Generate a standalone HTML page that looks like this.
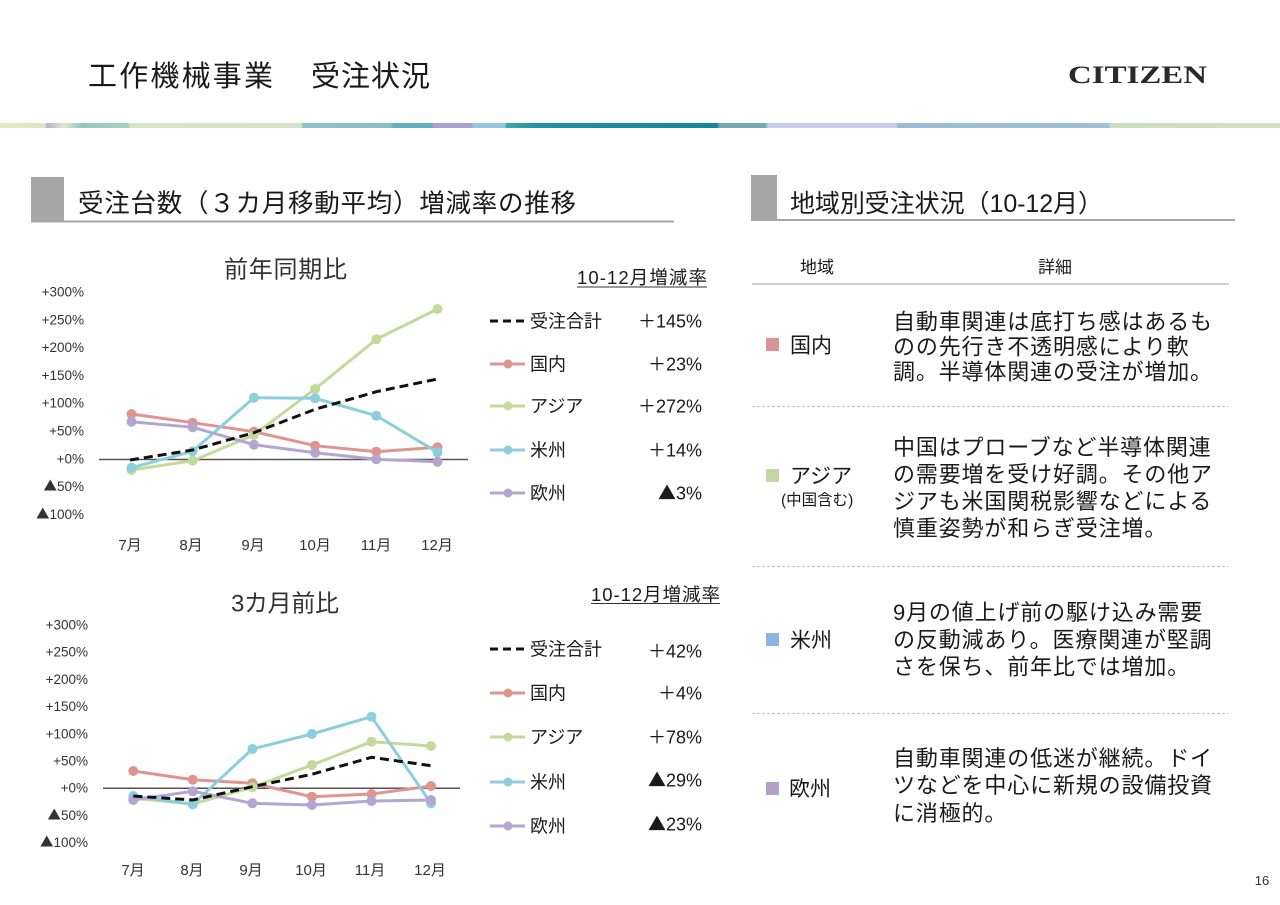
<!DOCTYPE html>
<html><head><meta charset="utf-8">
<style>
html,body{margin:0;padding:0;background:#fff;}
svg{display:block;}
text{font-family:"Liberation Sans","Noto Sans CJK JP",sans-serif;fill:#1a1a1a;}
.ax{fill:#333;font-size:13.5px;}
.xl{fill:#333;font-size:15px;}
.tri{font-family:"Noto Sans CJK JP",sans-serif;}
</style></head>
<body>
<svg width="1280" height="905" viewBox="0 0 1280 905" xmlns="http://www.w3.org/2000/svg">
<defs>
<linearGradient id="band" x1="0" y1="0" x2="1280" y2="0" gradientUnits="userSpaceOnUse">
<stop offset="0" stop-color="#e2eac2"/>
<stop offset="0.035" stop-color="#dde8c4"/>
<stop offset="0.037" stop-color="#b8b0d8"/>
<stop offset="0.05" stop-color="#dce8cc"/>
<stop offset="0.064" stop-color="#92c8c0"/>
<stop offset="0.1" stop-color="#a8d0c4"/>
<stop offset="0.102" stop-color="#d6e6c8"/>
<stop offset="0.235" stop-color="#d4e4c8"/>
<stop offset="0.237" stop-color="#8cc4c4"/>
<stop offset="0.305" stop-color="#86c0c4"/>
<stop offset="0.307" stop-color="#64aec0"/>
<stop offset="0.337" stop-color="#64aec0"/>
<stop offset="0.339" stop-color="#a8a2d2"/>
<stop offset="0.368" stop-color="#a8a2d2"/>
<stop offset="0.37" stop-color="#92c8e0"/>
<stop offset="0.394" stop-color="#92c8e0"/>
<stop offset="0.396" stop-color="#3ea8a8"/>
<stop offset="0.42" stop-color="#1f92a0"/>
<stop offset="0.56" stop-color="#14869c"/>
<stop offset="0.562" stop-color="#72a8b0"/>
<stop offset="0.598" stop-color="#72a8b0"/>
<stop offset="0.6" stop-color="#c8cce8"/>
<stop offset="0.7" stop-color="#c8cce8"/>
<stop offset="0.702" stop-color="#98bcd8"/>
<stop offset="0.866" stop-color="#9cc2d4"/>
<stop offset="0.868" stop-color="#c8e0c0"/>
<stop offset="1" stop-color="#cfe2c2"/>
</linearGradient>
</defs>

<!-- Header -->
<text x="88" y="86" font-size="29" textLength="185" lengthAdjust="spacing">工作機械事業</text>
<text x="311" y="86" font-size="29" textLength="119" lengthAdjust="spacing">受注状況</text>
<text x="1068" y="83" font-size="25" font-weight="bold" textLength="139" lengthAdjust="spacingAndGlyphs" style="font-family:'Liberation Serif',serif;fill:#2a2a2a;">CITIZEN</text>
<rect x="0" y="123" width="1280" height="5" fill="url(#band)"/>

<!-- Left section header -->
<rect x="31" y="177" width="33" height="44" fill="#a6a6a6"/>
<line x1="31" y1="221.5" x2="674" y2="221.5" stroke="#a6a6a6" stroke-width="2"/>
<text x="78" y="212" font-size="25.5" textLength="498" lengthAdjust="spacing">受注台数（３カ月移動平均）増減率の推移</text>

<!-- Right section header -->
<rect x="751" y="175" width="26" height="45" fill="#a6a6a6"/>
<line x1="751" y1="220" x2="1235" y2="220" stroke="#a6a6a6" stroke-width="2"/>
<text x="790" y="212" font-size="25" textLength="313" lengthAdjust="spacing">地域別受注状況（10-12月）</text>

<!-- ===== Chart 1 ===== -->
<text x="224" y="277.5" font-size="24" textLength="123" lengthAdjust="spacing" style="fill:#333">前年同期比</text>
<g text-anchor="end">
<text class="ax" x="84" y="296.5">+300%</text>
<text class="ax" x="84" y="324.3">+250%</text>
<text class="ax" x="84" y="352.1">+200%</text>
<text class="ax" x="84" y="379.9">+150%</text>
<text class="ax" x="84" y="407.7">+100%</text>
<text class="ax" x="84" y="435.5">+50%</text>
<text class="ax" x="84" y="463.3">+0%</text>
<text class="ax" x="84" y="491.1"><tspan class="tri">▲</tspan>50%</text>
<text class="ax" x="84" y="518.9"><tspan class="tri">▲</tspan>100%</text>
</g>
<g text-anchor="middle">
<text class="xl" x="130" y="550">7月</text>
<text class="xl" x="191" y="550">8月</text>
<text class="xl" x="253" y="550">9月</text>
<text class="xl" x="315" y="550">10月</text>
<text class="xl" x="376" y="550">11月</text>
<text class="xl" x="437" y="550">12月</text>
</g>
<line x1="99" y1="459.5" x2="468" y2="459.5" stroke="#555" stroke-width="1.5"/>
<!-- red -->
<g fill="#df9490">
<polyline fill="none" stroke="#df9490" stroke-width="3" points="131.5,414 192.7,422.7 253.9,431.7 315.1,445.7 376.3,451.7 437.5,447.3"/>
<circle cx="131.5" cy="414" r="5"/><circle cx="192.7" cy="422.7" r="5"/><circle cx="253.9" cy="431.7" r="5"/><circle cx="315.1" cy="445.7" r="5"/><circle cx="376.3" cy="451.7" r="5"/><circle cx="437.5" cy="447.3" r="5"/>
</g>
<!-- green -->
<g fill="#c3da9a">
<polyline fill="none" stroke="#c3da9a" stroke-width="3" points="131.5,470 192.7,460.7 253.9,435 315.1,389 376.3,339.3 437.5,309"/>
<circle cx="131.5" cy="470" r="5"/><circle cx="192.7" cy="460.7" r="5"/><circle cx="253.9" cy="435" r="5"/><circle cx="315.1" cy="389" r="5"/><circle cx="376.3" cy="339.3" r="5"/><circle cx="437.5" cy="309" r="5"/>
</g>
<!-- cyan -->
<g fill="#8ccfdc">
<polyline fill="none" stroke="#8ccfdc" stroke-width="3" points="131.5,467.7 192.7,451.3 253.9,397.7 315.1,398.3 376.3,415.7 437.5,452.3"/>
<circle cx="131.5" cy="467.7" r="5"/><circle cx="192.7" cy="451.3" r="5"/><circle cx="253.9" cy="397.7" r="5"/><circle cx="315.1" cy="398.3" r="5"/><circle cx="376.3" cy="415.7" r="5"/><circle cx="437.5" cy="452.3" r="5"/>
</g>
<!-- purple -->
<g fill="#b4a6d0">
<polyline fill="none" stroke="#b4a6d0" stroke-width="3" points="131.5,421.7 192.7,427.3 253.9,444.7 315.1,452.7 376.3,459.3 437.5,461.7"/>
<circle cx="131.5" cy="421.7" r="5"/><circle cx="192.7" cy="427.3" r="5"/><circle cx="253.9" cy="444.7" r="5"/><circle cx="315.1" cy="452.7" r="5"/><circle cx="376.3" cy="459.3" r="5"/><circle cx="437.5" cy="461.7" r="5"/>
</g>
<!-- black dashed -->
<polyline fill="none" stroke="#111" stroke-width="3" stroke-dasharray="9,5" points="130,460 192.7,450 253.9,432.7 315.1,409.3 376.3,391.7 437.5,379"/>

<!-- Legend 1 -->
<text x="577" y="284" font-size="18.5" textLength="130" lengthAdjust="spacing">10-12月増減率</text>
<line x1="577" y1="287" x2="707" y2="287" stroke="#333" stroke-width="1"/>
<line x1="490" y1="321" x2="525" y2="321" stroke="#111" stroke-width="3" stroke-dasharray="8,5"/>
<text x="530" y="327.3" font-size="18">受注合計</text>
<text x="702" y="327.3" font-size="18" text-anchor="end">＋145%</text>
<line x1="490" y1="364" x2="525" y2="364" stroke="#df9490" stroke-width="3"/><circle cx="508" cy="364" r="4.5" fill="#df9490"/>
<text x="530" y="370.3" font-size="18">国内</text>
<text x="702" y="370.3" font-size="18" text-anchor="end">＋23%</text>
<line x1="490" y1="406" x2="525" y2="406" stroke="#c3da9a" stroke-width="3"/><circle cx="508" cy="406" r="4.5" fill="#c3da9a"/>
<text x="530" y="412.3" font-size="18">アジア</text>
<text x="702" y="412.3" font-size="18" text-anchor="end">＋272%</text>
<line x1="490" y1="450" x2="525" y2="450" stroke="#8ccfdc" stroke-width="3"/><circle cx="508" cy="450" r="4.5" fill="#8ccfdc"/>
<text x="530" y="456.3" font-size="18">米州</text>
<text x="702" y="456.3" font-size="18" text-anchor="end">＋14%</text>
<line x1="490" y1="493" x2="525" y2="493" stroke="#b4a6d0" stroke-width="3"/><circle cx="508" cy="493" r="4.5" fill="#b4a6d0"/>
<text x="530" y="499.3" font-size="18">欧州</text>
<text x="702" y="499.3" font-size="18" text-anchor="end"><tspan class="tri">▲</tspan>3%</text>

<!-- ===== Chart 2 ===== -->
<text x="231" y="611.5" font-size="24" textLength="108" lengthAdjust="spacing" style="fill:#333">3カ月前比</text>
<g text-anchor="end">
<text class="ax" x="88" y="629.5">+300%</text>
<text class="ax" x="88" y="656.7">+250%</text>
<text class="ax" x="88" y="683.9">+200%</text>
<text class="ax" x="88" y="711.1">+150%</text>
<text class="ax" x="88" y="738.3">+100%</text>
<text class="ax" x="88" y="765.5">+50%</text>
<text class="ax" x="88" y="792.7">+0%</text>
<text class="ax" x="88" y="819.9"><tspan class="tri">▲</tspan>50%</text>
<text class="ax" x="88" y="847.1"><tspan class="tri">▲</tspan>100%</text>
</g>
<g text-anchor="middle">
<text class="xl" x="133" y="875">7月</text>
<text class="xl" x="192" y="875">8月</text>
<text class="xl" x="251" y="875">9月</text>
<text class="xl" x="311" y="875">10月</text>
<text class="xl" x="370" y="875">11月</text>
<text class="xl" x="430" y="875">12月</text>
</g>
<line x1="103" y1="788.3" x2="460" y2="788.3" stroke="#555" stroke-width="1.5"/>
<!-- red -->
<g fill="#df9490">
<polyline fill="none" stroke="#df9490" stroke-width="3" points="133.3,771 192.8,779.7 252.4,783.3 311.9,796.7 371.5,794 431,786"/>
<circle cx="133.3" cy="771" r="5"/><circle cx="192.8" cy="779.7" r="5"/><circle cx="252.4" cy="783.3" r="5"/><circle cx="311.9" cy="796.7" r="5"/><circle cx="371.5" cy="794" r="5"/><circle cx="431" cy="786" r="5"/>
</g>
<!-- green -->
<g fill="#c3da9a">
<polyline fill="none" stroke="#c3da9a" stroke-width="3" points="133.3,798.3 192.8,804 252.4,787.3 311.9,765 371.5,741.7 431,746"/>
<circle cx="133.3" cy="798.3" r="5"/><circle cx="192.8" cy="804" r="5"/><circle cx="252.4" cy="787.3" r="5"/><circle cx="311.9" cy="765" r="5"/><circle cx="371.5" cy="741.7" r="5"/><circle cx="431" cy="746" r="5"/>
</g>
<!-- cyan -->
<g fill="#8ccfdc">
<polyline fill="none" stroke="#8ccfdc" stroke-width="3" points="133.3,796 192.8,804.3 252.4,749 311.9,734 371.5,716.7 431,803.3"/>
<circle cx="133.3" cy="796" r="5"/><circle cx="192.8" cy="804.3" r="5"/><circle cx="252.4" cy="749" r="5"/><circle cx="311.9" cy="734" r="5"/><circle cx="371.5" cy="716.7" r="5"/><circle cx="431" cy="803.3" r="5"/>
</g>
<!-- purple -->
<g fill="#b4a6d0">
<polyline fill="none" stroke="#b4a6d0" stroke-width="3" points="133.3,800 192.8,791.3 252.4,803.3 311.9,805 371.5,801 431,800"/>
<circle cx="133.3" cy="800" r="5"/><circle cx="192.8" cy="791.3" r="5"/><circle cx="252.4" cy="803.3" r="5"/><circle cx="311.9" cy="805" r="5"/><circle cx="371.5" cy="801" r="5"/><circle cx="431" cy="800" r="5"/>
</g>
<!-- black dashed -->
<polyline fill="none" stroke="#111" stroke-width="3" stroke-dasharray="9,5" points="133.3,796 192.8,800 252.4,786.7 311.9,774.3 371.5,757.3 431,765.7"/>

<!-- Legend 2 -->
<text x="591" y="601" font-size="18.5" textLength="129" lengthAdjust="spacing">10-12月増減率</text>
<line x1="591" y1="603.5" x2="720" y2="603.5" stroke="#333" stroke-width="1"/>
<line x1="490" y1="649" x2="525" y2="649" stroke="#111" stroke-width="3" stroke-dasharray="8,5"/>
<text x="530" y="655.3" font-size="18">受注合計</text>
<text x="702" y="657.3" font-size="18" text-anchor="end">＋42%</text>
<line x1="490" y1="693" x2="525" y2="693" stroke="#df9490" stroke-width="3"/><circle cx="508" cy="693" r="4.5" fill="#df9490"/>
<text x="530" y="699.3" font-size="18">国内</text>
<text x="702" y="699.3" font-size="18" text-anchor="end">＋4%</text>
<line x1="490" y1="737" x2="525" y2="737" stroke="#c3da9a" stroke-width="3"/><circle cx="508" cy="737" r="4.5" fill="#c3da9a"/>
<text x="530" y="743.3" font-size="18">アジア</text>
<text x="702" y="743.3" font-size="18" text-anchor="end">＋78%</text>
<line x1="490" y1="782" x2="525" y2="782" stroke="#8ccfdc" stroke-width="3"/><circle cx="508" cy="782" r="4.5" fill="#8ccfdc"/>
<text x="530" y="788.3" font-size="18">米州</text>
<text x="702" y="786.3" font-size="18" text-anchor="end"><tspan class="tri">▲</tspan>29%</text>
<line x1="490" y1="826" x2="525" y2="826" stroke="#b4a6d0" stroke-width="3"/><circle cx="508" cy="826" r="4.5" fill="#b4a6d0"/>
<text x="530" y="832.3" font-size="18">欧州</text>
<text x="702" y="830.3" font-size="18" text-anchor="end"><tspan class="tri">▲</tspan>23%</text>

<!-- ===== Right table ===== -->
<text x="817" y="273" font-size="17" text-anchor="middle">地域</text>
<text x="1055" y="273" font-size="17" text-anchor="middle">詳細</text>
<line x1="752" y1="284" x2="1229" y2="284" stroke="#bdbdbd" stroke-width="1.5"/>

<!-- 国内 -->
<rect x="766" y="338" width="13" height="13" fill="#d99595"/>
<text x="790" y="352.5" font-size="21">国内</text>
<g font-size="22" letter-spacing="0.85">
<text x="893" y="329.4">自動車関連は底打ち感はあるも</text>
<text x="893" y="354.4">のの先行き不透明感により軟</text>
<text x="893" y="379.4">調。半導体関連の受注が増加。</text>
</g>
<line x1="752" y1="406.5" x2="1228" y2="406.5" stroke="#c4c4c4" stroke-width="1" stroke-dasharray="3,2"/>

<!-- アジア -->
<rect x="766" y="469" width="13" height="13" fill="#c4d7a0"/>
<text x="790" y="483" font-size="21">アジア</text>
<text x="781" y="505" font-size="15.5">(中国含む)</text>
<g font-size="22" letter-spacing="0.85">
<text x="893" y="455">中国はプローブなど半導体関連</text>
<text x="893" y="482">の需要増を受け好調。その他ア</text>
<text x="893" y="509">ジアも米国関税影響などによる</text>
<text x="893" y="536">慎重姿勢が和らぎ受注増。</text>
</g>
<line x1="752" y1="566.5" x2="1228" y2="566.5" stroke="#c4c4c4" stroke-width="1" stroke-dasharray="3,2"/>

<!-- 米州 -->
<rect x="766" y="633" width="13" height="13" fill="#8db3e2"/>
<text x="790" y="647.5" font-size="21">米州</text>
<g font-size="22" letter-spacing="0.85">
<text x="893" y="620">9月の値上げ前の駆け込み需要</text>
<text x="893" y="647.5">の反動減あり。医療関連が堅調</text>
<text x="893" y="674.5">さを保ち、前年比では増加。</text>
</g>
<line x1="752" y1="713.5" x2="1228" y2="713.5" stroke="#c4c4c4" stroke-width="1" stroke-dasharray="3,2"/>

<!-- 欧州 -->
<rect x="766" y="782" width="13" height="13" fill="#b3a2c7"/>
<text x="789" y="796" font-size="21">欧州</text>
<g font-size="22" letter-spacing="0.85">
<text x="893" y="766">自動車関連の低迷が継続。ドイ</text>
<text x="893" y="793">ツなどを中心に新規の設備投資</text>
<text x="893" y="821">に消極的。</text>
</g>

<text x="1262" y="885" font-size="13" text-anchor="middle" style="fill:#333">16</text>
</svg>
</body></html>
